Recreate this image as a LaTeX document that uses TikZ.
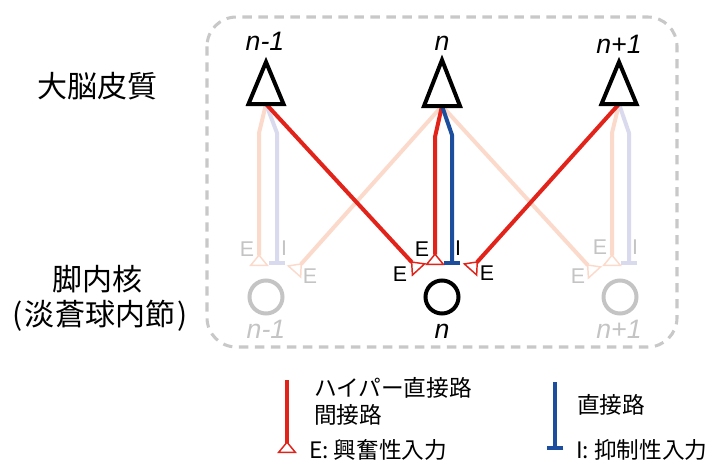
\documentclass[tikz,border=0pt]{standalone}
\usepackage{fontspec}
\setmainfont{Liberation Sans}
\newfontfamily\jp{Noto Sans CJK JP}
\usetikzlibrary{arrows.meta}
\definecolor{exc}{HTML}{E2231A}
\definecolor{inh}{HTML}{1D4E9E}
\definecolor{paleexc}{HTML}{FCDACB}
\definecolor{paleinh}{HTML}{DADAEE}
\definecolor{boxgray}{HTML}{C8C8C8}
\definecolor{txtgray}{HTML}{C4C4C4}
\begin{document}
\begin{tikzpicture}[x=0.75pt,y=-0.75pt,
  every node/.style={inner sep=0pt, outer sep=0pt},
  conn/.style={line width=3pt, line join=round},
  exctip/.style={-{Triangle[open,reversed,length=9pt,width=14.5pt,line width=1.1pt]}},
  inhtip/.style={-{Bar[width=12.5pt,line width=2.8pt]}},
  pyr/.style={draw=black, fill=white, line width=3pt, line join=miter},
  cell/.style={circle, draw, line width=3pt, minimum size=24.75pt},
  lab/.style={font=\fontsize{20}{24}\selectfont\itshape},
  elab/.style={font=\fontsize{16}{19}\selectfont},
  jptxt/.style={font=\jp\fontsize{22.5}{27}\selectfont},
  legtxt/.style={font=\jp\fontsize{17}{20}\selectfont, anchor=west}]
\useasboundingbox (0,0) rectangle (713,464);

% dashed frame
\draw[boxgray, line width=2.3pt, dash pattern=on 7pt off 5pt, rounded corners=22pt]
  (207,17) rectangle (677,347);

% left texts
\node[jptxt] (ctx) at (97,86) {大脳皮質};
\node[jptxt] (gpi1) at (97,279) {脚内核};
\node[jptxt] (gpi2) at (100,316) {(\kern0.08em 淡蒼球内節\kern0.08em)};

% cortex coordinates
\coordinate (cL) at (266,104);
\coordinate (cM) at (442,106);
\coordinate (cR) at (619,104);

% target coordinates
\coordinate (tLe) at (259,266);
\coordinate (tLi) at (277,265);
\coordinate (tLx) at (294,272);
\coordinate (tMa) at (419,270);
\coordinate (tMe) at (435,265);
\coordinate (tMi) at (452,265);
\coordinate (tMb) at (470,270);
\coordinate (tRx) at (595,273);
\coordinate (tRe) at (612,266);
\coordinate (tRi) at (629,265);

% pale connections
\draw[conn, paleexc, exctip] (cL) -- (259,133) -- (tLe);
\draw[conn, paleinh, inhtip] (cL) -- (277,133) -- (tLi);
\draw[conn, paleexc, exctip] (cM) -- (tLx);
\draw[conn, paleexc, exctip] (cM) -- (tRx);
\draw[conn, paleexc, exctip] (cR) -- (612,133) -- (tRe);
\draw[conn, paleinh, inhtip] (cR) -- (629,133) -- (tRi);

% strong connections
\draw[conn, exc, exctip] (cL) -- (tMa);
\draw[conn, exc, exctip] (cM) -- (435,137) -- (tMe);
\draw[conn, inh, inhtip] (cM) -- (452,135) -- (tMi);
\draw[conn, exc, exctip] (cR) -- (tMb);

% pyramidal neurons
\draw[pyr] (cL) ++(0,-42) -- ++(-17.5,42) -- ++(35,0) -- cycle;
\draw[pyr] (cM) ++(0,-46) -- ++(-18,46) -- ++(36,0) -- cycle;
\draw[pyr] (cR) ++(0,-42) -- ++(-17.5,42) -- ++(35,0) -- cycle;

\node[lab, anchor=base] (nL) at (265,50) {n-1};
\node[lab, anchor=base] (nM) at (442,50) {n};
\node[lab, anchor=base] (nR) at (619,53) {n+1};

% GPi cells
\node[cell, draw=txtgray] (gL) at (266,297) {};
\node[cell, draw=black] (gM) at (442,297) {};
\node[cell, draw=txtgray] (gR) at (620,297) {};

\node[lab, anchor=base, text=txtgray] (bL) at (266,338) {n-1};
\node[lab, anchor=base] (bM) at (442,338) {n};
\node[lab, anchor=base, text=txtgray] (bR) at (619,338) {n+1};

% E / I labels
\node[elab, text=txtgray] (eL1) at (247,249) {E};
\node[elab, text=txtgray] (iL1) at (284,248) {I};
\node[elab, text=txtgray] (eL2) at (310,276) {E};
\node[elab] (eM1) at (400,274) {E};
\node[elab] (eM2) at (422,249) {E};
\node[elab] (iM1) at (458,248) {I};
\node[elab] (eM3) at (487,273) {E};
\node[elab, text=txtgray] (eR1) at (578,276) {E};
\node[elab, text=txtgray] (eR2) at (600,247) {E};
\node[elab, text=txtgray] (iR1) at (635,247) {I};

% legend
\coordinate (lr1) at (287,380);
\coordinate (lr2) at (287,453);
\coordinate (lb1) at (555,382);
\coordinate (lb2) at (555,450);
\draw[conn, exc, exctip] (lr1) -- (lr2);
\draw[conn, inh, inhtip] (lb1) -- (lb2);
\node[legtxt] (l1) at (314,388) {ハイパー直接路};
\node[legtxt] (l2) at (314,415) {間接路};
\node[legtxt] (l3) at (309,450) {E: 興奮性入力};
\node[legtxt] (l4) at (577,405) {直接路};
\node[legtxt] (l5) at (576,450) {I: 抑制性入力};
\end{tikzpicture}
\end{document}
